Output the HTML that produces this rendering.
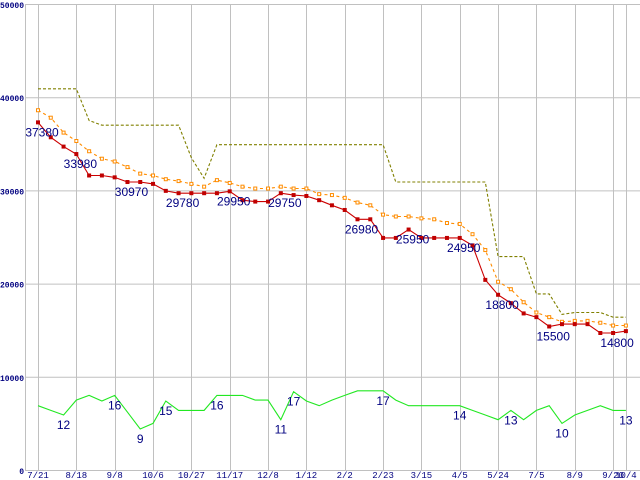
<!DOCTYPE html>
<html><head><meta charset="utf-8"><style>
html,body{margin:0;padding:0;background:#fff;}
svg{display:block;}
</style></head><body>
<svg id="chart" width="640" height="480" xmlns="http://www.w3.org/2000/svg"></svg>
<script>
const categories = ["7/21","","","8/18","","","9/8","","","10/6","","","10/27","","","11/17","","","12/8","","","1/12","","","2/2","","","2/23","","","3/15","","","4/5","","","5/24","","","7/5","","","8/9","","","9/20","10/4"];
const lowPrice = [37300,35700,34700,33900,31600,31600,31400,30900,30900,30700,29950,29700,29700,29700,29700,29900,28950,28800,28800,29700,29500,29400,28950,28400,27900,26900,26900,24900,24900,25800,24900,24900,24900,24900,24100,20400,18800,17900,16800,16400,15400,15650,15650,15650,14700,14700,14900];
const avgPrice = [38600,37800,36200,35300,34200,33400,33100,32500,31800,31600,31200,31000,30700,30400,31100,30800,30400,30200,30200,30400,30200,30200,29600,29500,29200,28700,28400,27400,27200,27200,27000,26900,26500,26400,25300,23600,20200,19400,18000,16900,16400,15900,16000,16000,15800,15500,15500];
const highPrice = [40900,40900,40900,40900,37500,37000,37000,37000,37000,37000,37000,37000,33500,31300,34900,34900,34900,34900,34900,34900,34900,34900,34900,34900,34900,34900,34900,34900,30900,30900,30900,30900,30900,30900,30900,30900,22900,22900,22900,18900,18900,16700,16900,16900,16900,16400,16400];
const shopCount = [6900,6400,5900,7500,8000,7400,8000,6200,4400,5000,7400,6400,6400,6400,8000,8000,8000,7500,7500,5400,8400,7400,6900,7500,8000,8500,8500,8500,7500,6900,6900,6900,6900,6900,6400,5900,5400,6400,5400,6400,6900,5000,5900,6400,6900,6400,6400];
const lowLabelIdx = [0,3,7,11,15,19,25,29,33,36,40,45];
const lowLabelText = ["37380","33980","30970","29780","29950","29750","26980","25950","24950","18800","15500","14800"];
const countLabelIdx = [2,6,8,10,14,19,20,27,33,37,41,46];
const countLabelText = ["12","16","9","15","16","11","17","17","14","13","10","13"];
const yTicks = [0,10000,20000,30000,40000,50000];

const svg = document.getElementById('chart');
const NS = 'http://www.w3.org/2000/svg';
const X0 = 38, DX = 12.78, Y0 = 470, YTOP = 4, YMAX = 50000;
function xs(i){ return X0 + i*DX; }
function ys(v){ return Y0 - v/YMAX*(Y0-YTOP); }
function mk(tag, attrs){ const e = document.createElementNS(NS, tag); for (const k in attrs) e.setAttribute(k, attrs[k]); svg.appendChild(e); return e; }

yTicks.forEach(v => {
  const g = mk('line', {x1:25, x2:640, y1:ys(v)+0.5, y2:ys(v)+0.5, stroke:'#c0c0c0', 'stroke-width':1});
  
  
  const s = String(v);
  const attrs = {x:24, y:ys(v)+4, 'text-anchor':'end', 'font-family':'Liberation Mono, monospace', 'font-size':8, 'font-weight':'bold', fill:'#000080'};
  if (s.length > 1) { attrs.textLength = s.length*4.8; attrs.lengthAdjust = 'spacingAndGlyphs'; }
  const t = mk('text', attrs);
  t.textContent = s;
  
  
});
const la = mk('line', {x1:25.5, x2:25.5, y1:YTOP, y2:Y0, stroke:'#c0c0c0', 'stroke-width':1});


categories.forEach((c, i) => {
  if (!c) return;
  const x = Math.round(xs(i)) + 0.5;
  const g = mk('line', {x1:x, x2:x, y1:YTOP, y2:Y0, stroke:'#c0c0c0', 'stroke-width':1});
  
  
  const t = mk('text', {x:xs(i), y:478, 'text-anchor':'middle', 'font-family':'Liberation Mono, monospace', 'font-size':9, fill:'#000080'});
  t.textContent = c;
  
  
});

function pts(arr){ return arr.map((v,i)=> xs(i).toFixed(1)+','+ys(v).toFixed(1)).join(' '); }

const hl = mk('polyline', {points:pts(highPrice), fill:'none', stroke:'#808000', 'stroke-width':1.1, 'stroke-dasharray':'3,2'});



const al = mk('polyline', {points:pts(avgPrice), fill:'none', stroke:'#ff8c00', 'stroke-width':1.1, 'stroke-dasharray':'3,3'});


avgPrice.forEach((v,i) => {
  const r = mk('rect', {x:xs(i)-1.5, y:ys(v)-1.5, width:3, height:3, fill:'#fff', stroke:'#ff8c00', 'stroke-width':1});
  
  
});

const ll = mk('polyline', {points:pts(lowPrice), fill:'none', stroke:'#cc0000', 'stroke-width':1.1});


lowPrice.forEach((v,i) => {
  const r = mk('rect', {x:xs(i)-2, y:ys(v)-2, width:4, height:4, fill:'#c00000'});
  
  
});

const cl = mk('polyline', {points:pts(shopCount), fill:'none', stroke:'#22e822', 'stroke-width':1.1});



lowLabelIdx.forEach((idx, k) => {
  const t = mk('text', {x:xs(idx)+4, y:ys(lowPrice[idx])+14, 'text-anchor':'middle', 'font-family':'Liberation Sans, sans-serif', 'font-size':12, fill:'#000080'});
  t.textContent = lowLabelText[k];
  
  
});
countLabelIdx.forEach((idx, k) => {
  const t = mk('text', {x:xs(idx), y:ys(shopCount[idx])+14, 'text-anchor':'middle', 'font-family':'Liberation Sans, sans-serif', 'font-size':12, fill:'#000080'});
  t.textContent = countLabelText[k];
  
  
});
</script>
</body></html>
